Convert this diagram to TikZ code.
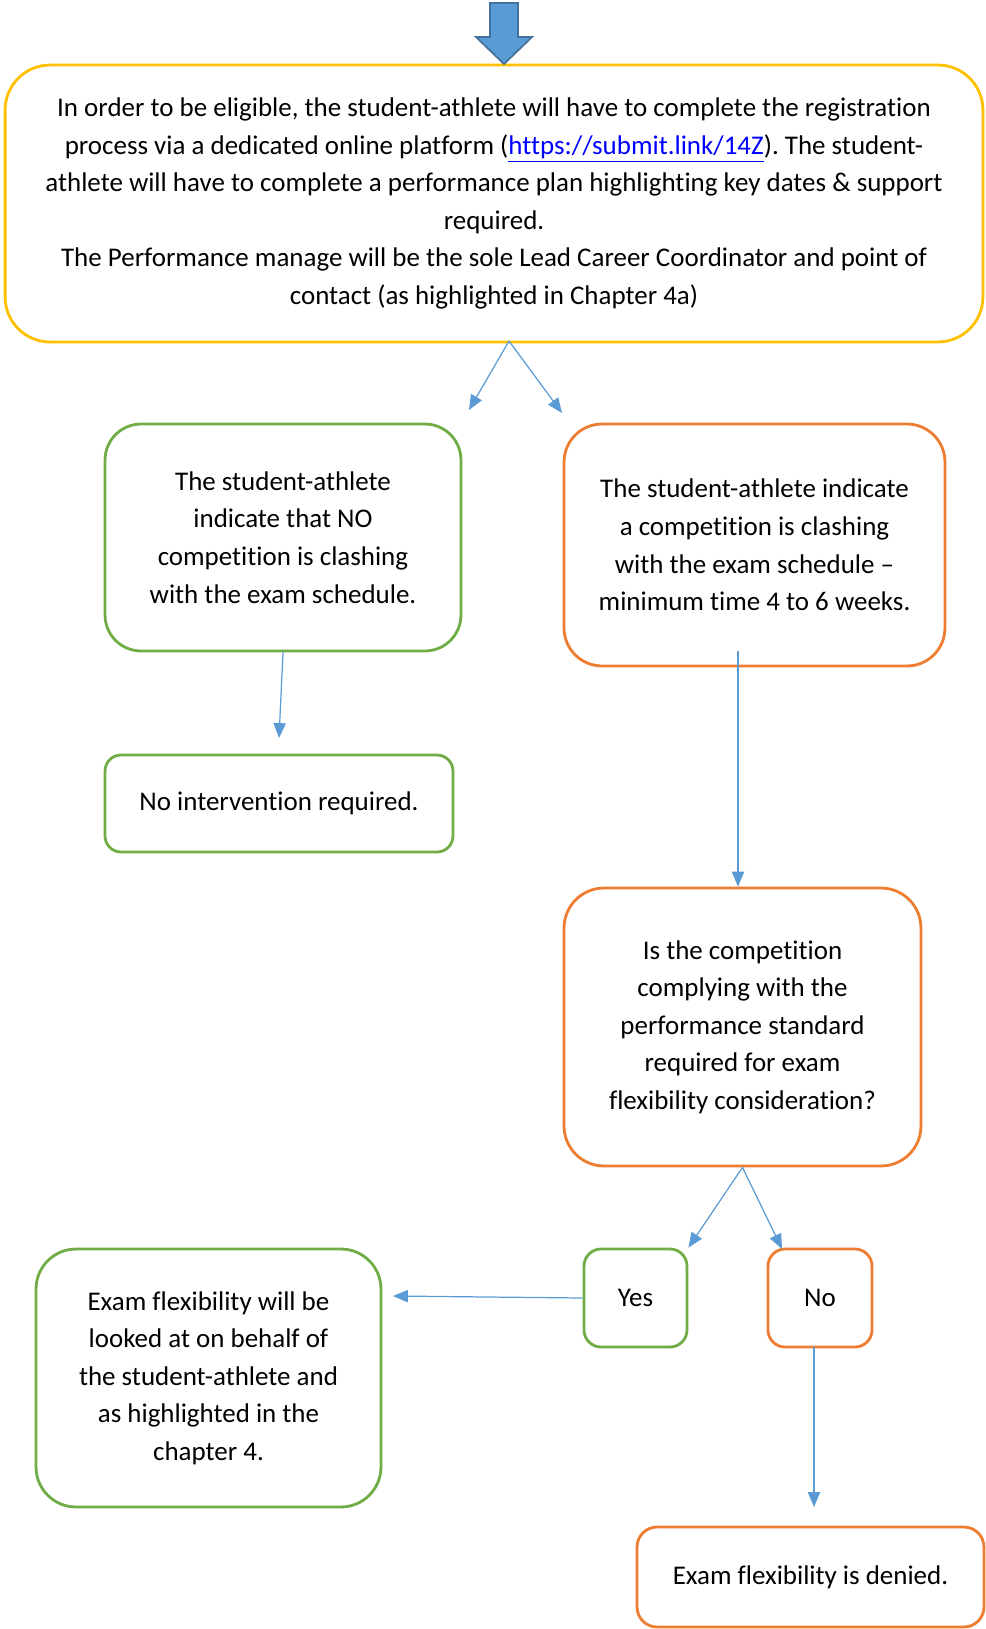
\documentclass[tikz,border=0pt]{standalone}
\usepackage{fontspec}
\setmainfont{Carlito}[Ligatures={TeX,NoCommon}]
\usetikzlibrary{arrows.meta}
\definecolor{boxgold}{HTML}{FFC000}
\definecolor{boxgreen}{HTML}{70AD47}
\definecolor{boxorange}{HTML}{ED7D31}
\definecolor{flowblue}{HTML}{5B9BD5}
\definecolor{flowedge}{HTML}{41719C}
\definecolor{urlblue}{HTML}{0000FF}
\frenchspacing
\tikzset{
  base box/.style={
    rectangle, line width=1.6pt, fill=white, align=center, inner sep=0pt,
    font=\fontsize{15.35}{21.4}\selectfont
  },
  gold box/.style={base box, draw=boxgold},
  green box/.style={base box, draw=boxgreen},
  orange box/.style={base box, draw=boxorange},
  flow arrow/.style={
    draw=flowblue, line width=0.7pt, -{Triangle[length=8.5pt,width=7pt]}
  }
}

\begin{document}
\begin{tikzpicture}[x=0.02cm, y=-0.02cm]
\useasboundingbox (0,0) rectangle (986,1629);

% ---------------------------
% registration
% ---------------------------
\node[gold box, rounded corners=0.9cm, minimum width=19.56cm, minimum height=5.54cm] (reg) at (494,203.5)
  {In order to be eligible, the student-athlete will have to complete the registration\\
   process via a dedicated online platform (\textcolor{urlblue}{\underline{https://submit.link/14Z}}). The student-\\
   athlete will have to complete a performance plan highlighting key dates \& support\\
   required.\\
   The Performance manage will be the sole Lead Career Coordinator and point of\\
   contact (as highlighted in Chapter 4a)};

\filldraw[fill=flowblue, draw=flowedge, line width=1pt]
  (490,3) -- (518,3) -- (518,37) -- (532,37) -- (504,64) -- (476,37) -- (490,37) -- cycle;

% ---------------------------
% clash or no clash
% ---------------------------
\node[green box, rounded corners=0.72cm, minimum width=7.12cm, minimum height=4.54cm] (noclash) at (283,537.5)
  {The student-athlete\\ indicate that NO\\ competition is clashing\\ with the exam schedule.};
\node[orange box, rounded corners=0.76cm, minimum width=7.62cm, minimum height=4.84cm] (clash) at (754.5,545)
  {The student-athlete indicate\\ a competition is clashing\\ with the exam schedule –\\ minimum time 4 to 6 weeks.};
\node[green box, rounded corners=0.32cm, minimum width=6.96cm, minimum height=1.94cm] (none) at (279,803.5)
  {No intervention required.};

\coordinate (fork top) at (509,341);
\coordinate (tip left) at (469,410);
\coordinate (tip right) at (562,413);
\draw[flow arrow] (fork top) -- (tip left);
\draw[flow arrow] (fork top) -- (tip right);

\coordinate (tip none) at (279,738);
\draw[flow arrow] (noclash.south) -- (tip none);

% ---------------------------
% standard check
% ---------------------------
\node[orange box, rounded corners=0.8cm, minimum width=7.14cm, minimum height=5.56cm] (check) at (742.5,1027)
  {Is the competition\\ complying with the\\ performance standard\\ required for exam\\ flexibility consideration?};

\coordinate (clash out) at (738,651);
\draw[flow arrow] (clash out) -- (clash out |- check.north);

\node[green box, rounded corners=0.34cm, minimum width=2.06cm, minimum height=1.96cm] (yes) at (635.5,1298) {Yes};
\node[orange box, rounded corners=0.34cm, minimum width=2.08cm, minimum height=1.96cm] (no) at (820,1298) {No};

\coordinate (tip no) at (782,1249);
\draw[flow arrow] (check.south) -- (yes.north east);
\draw[flow arrow] (check.south) -- (tip no);

% ---------------------------
% outcome
% ---------------------------
\node[green box, rounded corners=0.8cm, minimum width=6.9cm, minimum height=5.16cm] (granted) at (208.5,1378)
  {Exam flexibility will be\\ looked at on behalf of\\ the student-athlete and\\ as highlighted in the\\ chapter 4.};
\node[orange box, rounded corners=0.4cm, minimum width=6.94cm, minimum height=2cm] (denied) at (810.5,1577)
  {Exam flexibility is denied.};

\coordinate (tip granted) at (393,1296);
\draw[flow arrow] (yes.west) -- (tip granted);

\coordinate (no out) at (814,1347);
\coordinate (tip denied) at (814,1507);
\draw[flow arrow] (no out) -- (tip denied);

\end{tikzpicture}
\end{document}
